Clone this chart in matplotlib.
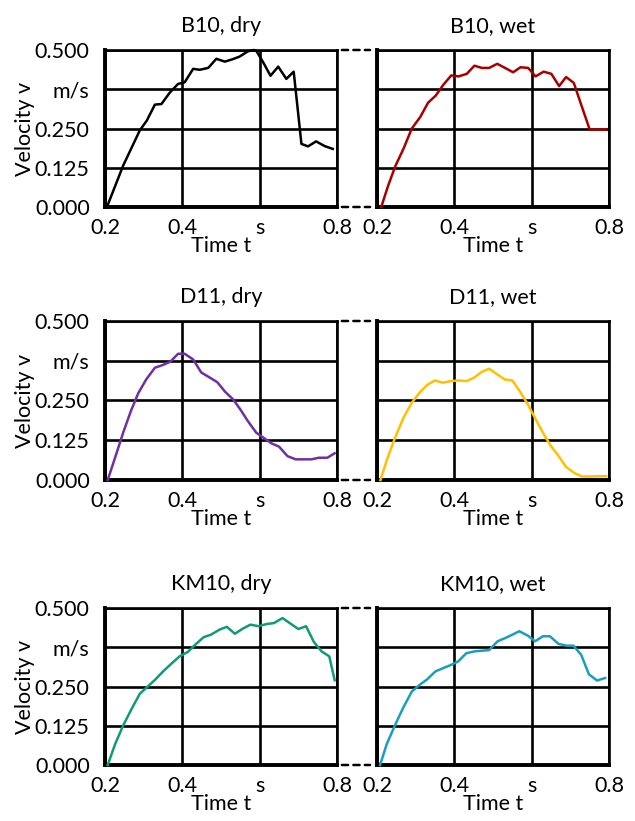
import matplotlib
matplotlib.use("Agg")
import matplotlib.pyplot as plt
from matplotlib.patches import ConnectionPatch

plt.rcParams['font.family'] = ['Lato', 'DejaVu Sans']
plt.rcParams['font.size'] = 15.5

# B10
t_b10_dry = [0.205, 0.247, 0.290, 0.308, 0.329, 0.346, 0.368, 0.389, 0.406, 0.428,
             0.445, 0.467, 0.488, 0.510, 0.531, 0.548, 0.570, 0.585, 0.591, 0.609,
             0.628, 0.648, 0.669, 0.688, 0.708, 0.725, 0.746, 0.768, 0.789]
v_b10_dry = [0.000, 0.132, 0.244, 0.275, 0.326, 0.328, 0.365, 0.392, 0.397, 0.440,
             0.437, 0.443, 0.472, 0.463, 0.471, 0.479, 0.496, 0.500, 0.498, 0.461,
             0.418, 0.447, 0.408, 0.431, 0.201, 0.193, 0.209, 0.194, 0.185]
t_b10_wet = [0.211, 0.228, 0.247, 0.269, 0.290, 0.312, 0.332, 0.352, 0.372, 0.392,
             0.411, 0.432, 0.452, 0.471, 0.490, 0.511, 0.531, 0.552, 0.571, 0.591,
             0.610, 0.631, 0.651, 0.671, 0.689, 0.709, 0.730, 0.750, 0.771, 0.792]
v_b10_wet = [0.000, 0.065, 0.129, 0.187, 0.250, 0.287, 0.332, 0.355, 0.390, 0.419,
             0.416, 0.424, 0.450, 0.443, 0.443, 0.456, 0.443, 0.429, 0.445, 0.443,
             0.416, 0.431, 0.424, 0.385, 0.414, 0.395, 0.319, 0.247, 0.247, 0.247]

# D11
t_d11_dry = [0.207, 0.226, 0.247, 0.267, 0.286, 0.307, 0.329, 0.348, 0.369, 0.389,
             0.406, 0.428, 0.449, 0.471, 0.490, 0.511, 0.531, 0.550, 0.569, 0.591,
             0.612, 0.631, 0.650, 0.672, 0.693, 0.715, 0.734, 0.753, 0.775, 0.794]
v_d11_dry = [0.000, 0.070, 0.149, 0.217, 0.273, 0.317, 0.353, 0.361, 0.372, 0.397,
             0.397, 0.379, 0.338, 0.322, 0.308, 0.277, 0.254, 0.222, 0.186, 0.149,
             0.131, 0.115, 0.105, 0.075, 0.065, 0.065, 0.065, 0.070, 0.070, 0.084]
t_d11_wet = [0.209, 0.226, 0.247, 0.269, 0.290, 0.311, 0.331, 0.350, 0.370, 0.391,
             0.410, 0.432, 0.451, 0.471, 0.490, 0.511, 0.531, 0.550, 0.571, 0.591,
             0.612, 0.630, 0.649, 0.668, 0.689, 0.709, 0.730, 0.752, 0.773, 0.793]
v_d11_wet = [0.000, 0.065, 0.134, 0.197, 0.243, 0.276, 0.300, 0.313, 0.306, 0.311,
             0.313, 0.311, 0.322, 0.340, 0.350, 0.332, 0.316, 0.313, 0.276, 0.236,
             0.187, 0.147, 0.108, 0.078, 0.041, 0.023, 0.011, 0.011, 0.012, 0.012]

# KM10
t_km10_dry = [0.207, 0.226, 0.247, 0.269, 0.290, 0.330, 0.351, 0.372, 0.393, 0.414,
              0.436, 0.455, 0.474, 0.496, 0.515, 0.536, 0.556, 0.576, 0.597, 0.618,
              0.637, 0.659, 0.680, 0.700, 0.720, 0.740, 0.760, 0.780, 0.794]
v_km10_dry = [0.000, 0.066, 0.126, 0.179, 0.227, 0.272, 0.299, 0.323, 0.346, 0.360,
              0.386, 0.407, 0.415, 0.431, 0.440, 0.418, 0.434, 0.447, 0.442, 0.449,
              0.452, 0.468, 0.450, 0.433, 0.442, 0.392, 0.362, 0.346, 0.270]
t_km10_wet = [0.208, 0.225, 0.247, 0.268, 0.290, 0.310, 0.330, 0.351, 0.372, 0.392,
              0.410, 0.431, 0.453, 0.472, 0.490, 0.512, 0.531, 0.550, 0.568, 0.590,
              0.609, 0.629, 0.647, 0.669, 0.690, 0.708, 0.728, 0.748, 0.769, 0.790]
v_km10_wet = [0.000, 0.066, 0.128, 0.183, 0.234, 0.255, 0.273, 0.298, 0.309, 0.319,
              0.330, 0.356, 0.362, 0.364, 0.366, 0.394, 0.404, 0.415, 0.426, 0.412,
              0.394, 0.410, 0.410, 0.386, 0.380, 0.380, 0.351, 0.289, 0.269, 0.277]

panels = [
    [("B10, dry", t_b10_dry, v_b10_dry, "black"),
     ("B10, wet", t_b10_wet, v_b10_wet, "#A80000")],
    [("D11, dry", t_d11_dry, v_d11_dry, "#7030A0"),
     ("D11, wet", t_d11_wet, v_d11_wet, "#FFC000")],
    [("KM10, dry", t_km10_dry, v_km10_dry, "#12997A"),
     ("KM10, wet", t_km10_wet, v_km10_wet, "#1A9FB8")],
]

x_ticks = [0.2, 0.4, 0.6, 0.8]
x_labels = ["0.2", "0.4", "s", "0.8"]
y_ticks = [0.0, 0.125, 0.25, 0.375, 0.5]
y_labels = ["0.000", "0.125", "0.250", "m/s", "0.500"]

W, H = 635, 821
fig = plt.figure(figsize=(W / 100, H / 100), dpi=100)

col_left = [105, 377]
ax_w = 232
row_top = [50, 321, 608]
row_h = [157, 159, 157]

for r, row in enumerate(panels):
    axes = []
    for c, (title, t, v, color) in enumerate(row):
        ax = fig.add_axes([col_left[c] / W, 1 - (row_top[r] + row_h[r]) / H,
                           ax_w / W, row_h[r] / H])
        ax.plot(t, v, color=color, lw=1.8, zorder=3, clip_on=False)
        ax.set_xlim(0.2, 0.8)
        ax.set_ylim(0, 0.5)
        ax.set_xticks(x_ticks)
        ax.set_xticklabels(x_labels)
        ax.set_yticks(y_ticks)
        if c == 0:
            ax.set_yticklabels(y_labels)
            ax.set_ylabel("Velocity v", labelpad=0)
        else:
            ax.set_yticklabels([])
        ax.grid(True, color="black", lw=1.9)
        ax.tick_params(length=0, labelsize=15.5)
        ax.tick_params(axis="y", pad=11)
        ax.tick_params(axis="x", pad=8)
        for side in ["top", "right"]:
            ax.spines[side].set_linewidth(1.9)
        for side in ["left", "bottom"]:
            ax.spines[side].set_linewidth(2.8)
        ax.set_xlabel("Time t", labelpad=-1.5)
        ax.set_title(title, fontsize=15.5, pad=13)
        axes.append(ax)

    # dashed connectors between the paired panels at top and bottom
    for yv in [0.0, 0.5]:
        con = ConnectionPatch(xyA=(0.8, yv), coordsA=axes[0].transData,
                              xyB=(0.2, yv), coordsB=axes[1].transData,
                              arrowstyle="-", shrinkA=3.5, shrinkB=5,
                              linestyle=(0, (2.5, 2.1)), lw=1.8, color="black")
        fig.add_artist(con)

fig.savefig("out.png", dpi=100)
